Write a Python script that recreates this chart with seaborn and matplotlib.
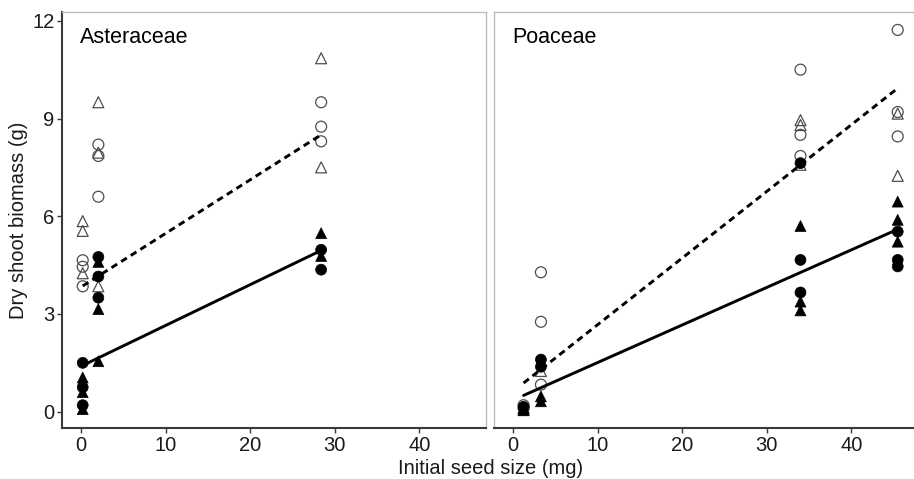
import pandas as pd
import matplotlib
matplotlib.use('Agg')
import matplotlib.pyplot as plt
import seaborn as sns

# seed size columns (mg)
ast_x = [0.2, 2.05, 28.4]
poa_x = [1.25, 3.3, 34.0, 45.5]

# Asteraceae biomass per seed size column
ast_open_circle = [[4.65, 4.45, 3.85], [8.2, 7.85, 6.6], [9.5, 8.75, 8.3]]
ast_open_tri = [[5.85, 5.55, 4.25], [9.5, 7.95, 3.85], [10.85, 7.5]]
ast_fill_circle = [[1.5, 0.75, 0.2], [4.75, 4.15, 3.5], [4.97, 4.36]]
ast_fill_tri = [[1.05, 0.6, 0.08], [4.6, 3.15, 1.55], [5.48, 4.78]]

# Poaceae biomass per seed size column
poa_open_circle = [[0.2, 0.1], [4.28, 2.76, 0.83], [10.5, 8.5, 7.85], [11.72, 9.2, 8.45]]
poa_open_tri = [[0.05, 0.12], [1.25], [8.95, 8.8, 7.58], [9.15, 7.24]]
poa_fill_circle = [[0.15], [1.6, 1.38], [7.63, 4.66, 3.66], [5.53, 4.66, 4.46]]
poa_fill_tri = [[0.05, 0.1], [0.47, 0.32], [5.7, 3.38, 3.11], [6.45, 5.89, 5.22]]

# fitted lines
ast_fit_x = [0.2, 28.4]
ast_fit_open = [3.86, 8.5]
ast_fit_fill = [1.42, 4.95]
poa_fit_x = [1.25, 45.5]
poa_fit_open = [0.88, 9.93]
poa_fit_fill = [0.5, 5.6]


def to_rows(family, xs, values, fill, shape):
    rows = []
    for x, ys in zip(xs, values):
        for y in ys:
            rows.append({'Family': family, 'Seed': x, 'Biomass': y,
                         'Fill': fill, 'Shape': shape})
    return rows


rows = []
rows += to_rows('Asteraceae', ast_x, ast_open_circle, 'open', 'circle')
rows += to_rows('Asteraceae', ast_x, ast_open_tri, 'open', 'triangle')
rows += to_rows('Asteraceae', ast_x, ast_fill_circle, 'filled', 'circle')
rows += to_rows('Asteraceae', ast_x, ast_fill_tri, 'filled', 'triangle')
rows += to_rows('Poaceae', poa_x, poa_open_circle, 'open', 'circle')
rows += to_rows('Poaceae', poa_x, poa_open_tri, 'open', 'triangle')
rows += to_rows('Poaceae', poa_x, poa_fill_circle, 'filled', 'circle')
rows += to_rows('Poaceae', poa_x, poa_fill_tri, 'filled', 'triangle')
df = pd.DataFrame(rows)

fits = pd.DataFrame({
    'Family': ['Asteraceae'] * 4 + ['Poaceae'] * 4,
    'Seed': ast_fit_x * 2 + poa_fit_x * 2,
    'Biomass': ast_fit_open + ast_fit_fill + poa_fit_open + poa_fit_fill,
    'Fill': ['open', 'open', 'filled', 'filled'] * 2,
})

sns.set_theme(style='white')
plt.rcParams['font.family'] = ['Liberation Sans', 'DejaVu Sans']

W, H = 914, 479
fig = plt.figure(figsize=(W / 100, H / 100), dpi=100)
ax1 = fig.add_axes([62 / W, 1 - 428 / H, 424 / W, 416 / H])
ax2 = fig.add_axes([494 / W, 1 - 428 / H, 424 / W, 416 / H])

markers = {'circle': 'o', 'triangle': '^'}
dark = '#3a3a3a'
light = '#bdbdbd'
txt = '#1a1a1a'

for ax, fam in [(ax1, 'Asteraceae'), (ax2, 'Poaceae')]:
    sub = df[df['Family'] == fam]
    sns.scatterplot(data=sub[sub['Fill'] == 'open'], x='Seed', y='Biomass',
                    style='Shape', markers=markers, s=62, facecolor='none',
                    edgecolor='#4d4d4d', linewidth=0.9, legend=False, ax=ax)
    sns.scatterplot(data=sub[sub['Fill'] == 'filled'], x='Seed', y='Biomass',
                    style='Shape', markers=markers, s=62, color='black',
                    edgecolor='black', linewidth=0.5, legend=False, ax=ax)
    f = fits[fits['Family'] == fam]
    sns.lineplot(data=f[f['Fill'] == 'open'], x='Seed', y='Biomass', color='black',
                 linewidth=2.1, linestyle=(0, (2.3, 1.6)), ax=ax)
    sns.lineplot(data=f[f['Fill'] == 'filled'], x='Seed', y='Biomass', color='black',
                 linewidth=2.1, ax=ax)

    ax.set_xlim(-2.25, 47.9)
    ax.set_ylim(-0.5, 12.27)
    ax.set_xticks([0, 10, 20, 30, 40])
    ax.set_yticks([0, 3, 6, 9, 12])
    ax.set_xlabel('')
    ax.set_ylabel('')
    ax.annotate(fam, xy=(0, 1), xycoords='axes fraction', xytext=(13, -10.5),
                textcoords='offset points', ha='left', va='top', fontsize=15.5,
                color='black')
    ax.tick_params(axis='x', length=3.5, width=1, color=dark, pad=2.5,
                   labelsize=14.5, labelcolor=txt, bottom=True)
    for side in ['top', 'right', 'left']:
        ax.spines[side].set_color(light)
        ax.spines[side].set_linewidth(1.0)
    ax.spines['bottom'].set_color(dark)
    ax.spines['bottom'].set_linewidth(1.5)

ax1.spines['left'].set_color(dark)
ax1.spines['left'].set_linewidth(1.5)
ax1.tick_params(axis='y', length=3.5, width=1, color=dark, pad=2,
                labelsize=14.5, labelcolor=txt, left=True)
ax2.tick_params(axis='y', left=False, labelleft=False)

fig.text(491 / W, 1 - 468 / H, 'Initial seed size (mg)', ha='center', va='center',
         fontsize=14.5, color=txt)
fig.text(19 / W, 1 - 220 / H, 'Dry shoot biomass (g)', ha='center', va='center',
         rotation=90, fontsize=14.5, color=txt)

plt.savefig('out.png', dpi=100)
